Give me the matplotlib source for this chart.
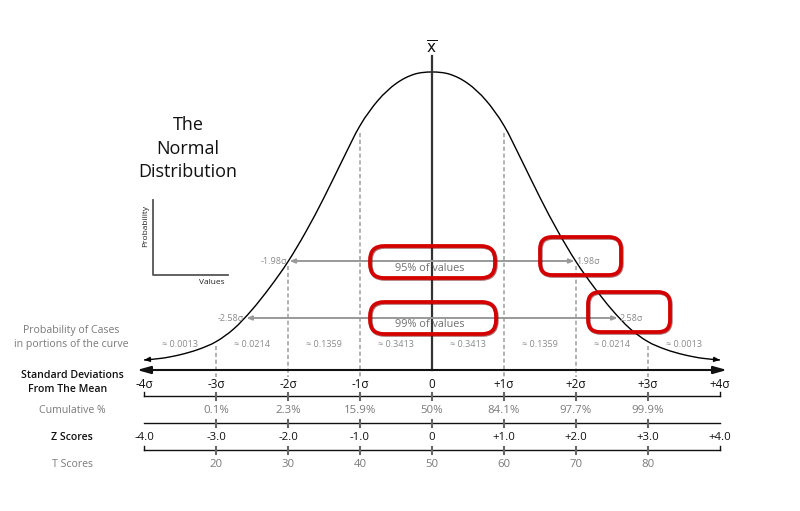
import numpy as np
import matplotlib.pyplot as plt
from matplotlib.patches import FancyBboxPatch, PathPatch
from matplotlib.path import Path
import matplotlib.patheffects as pe

plt.rcParams['font.family'] = ['Open Sans', 'DejaVu Sans']

curve_u = [0.0, 0.25, 0.5, 0.75, 1.0, 1.25, 1.5, 1.75, 2.0, 2.25, 2.5, 2.75,
           3.0, 3.25, 3.5, 3.75, 4.0]
curve_h = [1.000, 0.992, 0.960, 0.902, 0.815, 0.693, 0.567, 0.450, 0.346, 0.258,
           0.180, 0.115, 0.070, 0.043, 0.025, 0.013, 0.007]

sigma_pos = [-4, -3, -2, -1, 0, 1, 2, 3, 4]
sigma_labels = ['-4σ', '-3σ', '-2σ', '-1σ', '0', '+1σ', '+2σ', '+3σ', '+4σ']
z_labels = ['-4.0', '-3.0', '-2.0', '-1.0', '0', '+1.0', '+2.0', '+3.0', '+4.0']
inner_pos = [-3, -2, -1, 0, 1, 2, 3]
cum_labels = ['0.1%', '2.3%', '15.9%', '50%', '84.1%', '97.7%', '99.9%']
t_labels = ['20', '30', '40', '50', '60', '70', '80']
prob_mid = [-3.5, -2.5, -1.5, -0.5, 0.5, 1.5, 2.5, 3.5]
prob_vals = ['0.0013', '0.0214', '0.1359', '0.3413', '0.3413', '0.1359', '0.0214', '0.0013']
interval_z = [1.98, 2.58]
interval_pct = ['95%', '99%']

# layout: pixel position of the mean, one sigma, curve base and peak height
X0, SIG, BASE, HGT = 432, 72, 362, 290


def gx(p):
    return (p - X0) / SIG


def gy(p):
    return (BASE - p) / HGT


def smooth_path(x, y):
    # draw a smooth line through the read points (Catmull-Rom as cubic Beziers)
    pts = np.column_stack([x, y])
    verts = [pts[0]]
    codes = [Path.MOVETO]
    n = len(pts)
    for i in range(n - 1):
        p0 = pts[max(i - 1, 0)]
        p1 = pts[i]
        p2 = pts[i + 1]
        p3 = pts[min(i + 2, n - 1)]
        verts += [p1 + (p2 - p0) / 6, p2 - (p3 - p1) / 6, p2]
        codes += [Path.CURVE4] * 3
    return Path(verts, codes)


GRAY = '#8a8a8a'
DARK = '#111111'
LGRAY = '#7a7a7a'

fig = plt.figure(figsize=(8, 5.11), dpi=100)
ax = fig.add_axes([0, 0, 1, 1])
ax.set_xlim(gx(0), gx(800))
ax.set_ylim(gy(511), gy(0))
ax.axis('off')

# title
for i, line in enumerate(['The', 'Normal', 'Distribution']):
    ax.text(gx(188), gy(125 + 23.7 * i), line, fontsize=13, ha='center', va='center', color='#111')

# little probability/values sketch
ax.plot([gx(153), gx(153), gx(228)], [gy(200), gy(275), gy(275)], color='#555', lw=1.3)
ax.text(gx(146), gy(226), 'Probability', rotation=90, fontsize=6, ha='center', va='center', color='#222')
ax.text(gx(212), gy(282), 'Values', fontsize=6, ha='center', va='center', color='#222')

# dashed sigma lines
dash_top = {1: 133, 2: 266, 3: 346}
for k, top in dash_top.items():
    for s in (-k, k):
        ax.plot([s, s], [gy(top), gy(377)], color='#a5a5a5', lw=1.2, ls=(0, (2.5, 1.6)))

# the curve
u = np.array(curve_u)
h = np.array(curve_h)
xs = np.concatenate([-u[::-1], u[1:]])
ys = np.concatenate([h[::-1], h[1:]])
ax.add_patch(PathPatch(smooth_path(xs, ys), fill=False, edgecolor='black', lw=1.0))
for a, b in [(0, 1), (-1, -2)]:
    ax.annotate('', xy=(xs[a], ys[a]), xytext=(xs[a] + (xs[b] - xs[a]) * 0.4, ys[a] + (ys[b] - ys[a]) * 0.4),
                arrowprops=dict(arrowstyle='-|>,head_length=0.6,head_width=0.25', color='black',
                                lw=0.8, mutation_scale=6, shrinkA=0, shrinkB=0))

# interval lines at 1.98 and 2.58 sigma
for z, row in zip(interval_z, [261, 318]):
    ax.annotate('', xy=(-z, gy(row)), xytext=(z, gy(row)),
                arrowprops=dict(arrowstyle='<|-|>,head_length=0.5,head_width=0.2', color='#999',
                                lw=1.4, mutation_scale=6, shrinkA=0, shrinkB=0))
    ax.text(-z - gx(X0 + 2), gy(row), f'-{z:.2f}σ', fontsize=6.5, ha='right', va='center', color=GRAY)
    ax.text(z + gx(X0 + 2), gy(row), f'{z:.2f}σ', fontsize=6.5, ha='left', va='center', color=GRAY)

# centre line and x-bar
ax.plot([0, 0], [gy(56), gy(370)], color='#333', lw=1.6)
ax.text(0, gy(49), r'$\overline{\mathrm{x}}$', fontsize=11, ha='center', va='center', color='#111')

# red highlight boxes (x0, y0, x1, y1, radius in px)
boxes = [(370, 246, 495, 278, 14), (370, 302, 496, 334, 14),
         (540, 237, 621, 275, 12), (588, 292, 670, 332, 12)]
for x0, y0, x1, y1, r in boxes:
    patch = FancyBboxPatch((gx(x0), gy(y1)), (x1 - x0) / SIG, (y1 - y0) / HGT,
                           boxstyle=f'round,pad=0,rounding_size={r / SIG}',
                           mutation_aspect=SIG / HGT, fill=False, edgecolor='#d40000', lw=2.7, zorder=5,
                           path_effects=[pe.Stroke(offset=(0.5, -0.6), linewidth=2.9, foreground='#6a0000', alpha=0.55),
                                         pe.Normal()])
    ax.add_patch(patch)
for pct, row in zip(interval_pct, [268, 324]):
    ax.text(gx(430), gy(row), f'{pct} of values', fontsize=7.8, ha='center', va='center', color='#707070', zorder=2)

# probability of cases row
ax.text(gx(71), gy(330), 'Probability of Cases', fontsize=7.6, ha='center', va='center', color=LGRAY)
ax.text(gx(71), gy(344), 'in portions of the curve', fontsize=7.6, ha='center', va='center', color=LGRAY)
for m, v in zip(prob_mid, prob_vals):
    ax.text(m, gy(344), f'≈ {v}', fontsize=6.5, ha='center', va='center', color=GRAY)

# main axis
ax.annotate('', xy=(gx(137), gy(370)), xytext=(gx(727), gy(370)),
            arrowprops=dict(arrowstyle='<|-|>,head_length=1.0,head_width=0.28', color=DARK,
                            lw=1.5, mutation_scale=8, shrinkA=0, shrinkB=0))

# row labels
ax.text(gx(72), gy(375), 'Standard Deviations', fontsize=7.6, ha='center', va='center', color=DARK, fontweight='semibold')
ax.text(gx(68), gy(389), 'From The Mean', fontsize=7.6, ha='center', va='center', color=DARK, fontweight='semibold')
ax.text(gx(72), gy(410), 'Cumulative %', fontsize=7.6, ha='center', va='center', color=LGRAY)
ax.text(gx(72), gy(437), 'Z Scores', fontsize=7.6, ha='center', va='center', color=DARK, fontweight='semibold')
ax.text(gx(72), gy(464), 'T Scores', fontsize=7.6, ha='center', va='center', color=LGRAY)

for p, lab in zip(sigma_pos, sigma_labels):
    ax.text(p, gy(384), lab, fontsize=8.4, ha='center', va='center', color=DARK)
for p, lab in zip(sigma_pos, z_labels):
    ax.text(p, gy(437), lab, fontsize=8.2, ha='center', va='center', color=DARK)
for p, lab in zip(inner_pos, cum_labels):
    ax.text(p, gy(410), lab, fontsize=8.2, ha='center', va='center', color=LGRAY)
for p, lab in zip(inner_pos, t_labels):
    ax.text(p, gy(464), lab, fontsize=8.2, ha='center', va='center', color=LGRAY)

# scale lines with ticks
for row, hooks in [(396, True), (423, False), (450, True)]:
    ax.plot([-4, 4], [gy(row), gy(row)], color=DARK, lw=1.0)
    for p in inner_pos:
        ax.plot([p, p], [gy(row - 3.5), gy(row + 4)], color='#666', lw=1.5)
    if hooks:
        for p in (-4, 4):
            ax.plot([p, p], [gy(row - 4), gy(row)], color=DARK, lw=1.0)

fig.savefig('out.png', dpi=100)
